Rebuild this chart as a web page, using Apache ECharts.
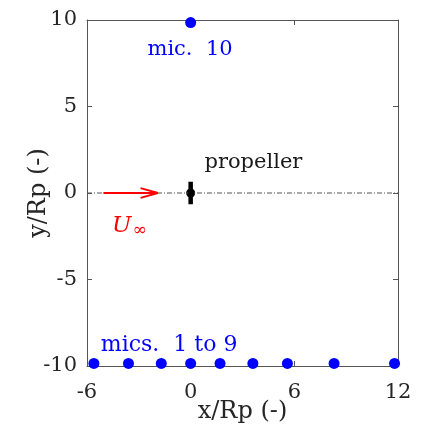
<!DOCTYPE html>
<html>
<head>
<meta charset="utf-8">
<script src="https://cdn.jsdelivr.net/npm/echarts@6/dist/echarts.min.js"></script>
<style>
  html, body { margin: 0; padding: 0; background: #fff; }
  #chart { width: 421px; height: 425px; }
</style>
</head>
<body>
<div id="chart"></div>
<script>
// Microphone layout around the propeller, in units of propeller radius
const xTicks = [-6, 0, 6, 12];
const yTicks = [-10, -5, 0, 5, 10];
const micsX = [-5.6, -3.6, -1.7, 0, 1.7, 3.6, 5.6, 8.3, 11.8];
const micsY = [-9.85, -9.85, -9.85, -9.85, -9.85, -9.85, -9.85, -9.85, -9.85];
const mic10 = [0, 9.85];
const axisLine = [[-6, 0], [12, 0]];
const flowShaft = [[-5.05, 0], [-1.9, 0]];
const flowHead = [[-2.9, 0.28], [-1.9, 0], [-2.9, -0.28]];
const propBlade = [[0, -0.65], [0, 0.65]];
const propHub = [0, 0];
const textLabels = [
  { pos: [0.8, 1.75], text: 'propeller', color: '#1a1a1a', size: 21 },
  { pos: [-2.5, 8.3], text: 'mic.  10', color: '#0000ff', size: 21 },
  { pos: [-5.2, -8.8], text: 'mics.  1 to 9', color: '#0000ff', size: 22 }
];
const flowLabelPos = [-4.55, -1.9];

const FONT = 'DejaVu Serif';
const TXT = '#262626';
const AX = '#555555';

const chart = echarts.init(document.getElementById('chart'));

const mainAxisX = {
  type: 'value', min: -6, max: 12, interval: 6, position: 'bottom',
  axisLine: { onZero: false, lineStyle: { color: AX, width: 1 } },
  axisTick: { inside: true, length: 5, lineStyle: { color: AX } },
  splitLine: { show: false },
  axisLabel: { color: TXT, fontFamily: FONT, fontSize: 21, margin: 16,
    formatter: v => xTicks.includes(v) ? String(v) : '' },
  name: 'x/Rp (-)', nameLocation: 'middle', nameGap: 34, nameMoveOverlap: false,
  nameTextStyle: { color: TXT, fontFamily: FONT, fontSize: 24 }
};
const mainAxisY = {
  type: 'value', min: -10, max: 10, interval: 5, position: 'left',
  axisLine: { onZero: false, lineStyle: { color: AX, width: 1 } },
  axisTick: { inside: true, length: 5, lineStyle: { color: AX } },
  splitLine: { show: false },
  axisLabel: { color: TXT, fontFamily: FONT, fontSize: 21, margin: 10,
    formatter: v => yTicks.includes(v) ? String(v) : '' },
  name: 'y/Rp (-)', nameLocation: 'middle', nameGap: 36, nameMoveOverlap: false,
  nameTextStyle: { color: TXT, fontFamily: FONT, fontSize: 24 }
};
const mirrorX = {
  type: 'value', min: -6, max: 12, interval: 6, position: 'top',
  axisLine: { onZero: false, lineStyle: { color: AX, width: 1 } },
  axisTick: { inside: true, length: 5, lineStyle: { color: AX } },
  axisLabel: { show: false }, splitLine: { show: false }
};
const mirrorY = {
  type: 'value', min: -10, max: 10, interval: 5, position: 'right',
  axisLine: { onZero: false, lineStyle: { color: AX, width: 1 } },
  axisTick: { inside: true, length: 5, lineStyle: { color: AX } },
  axisLabel: { show: false }, splitLine: { show: false }
};

const series = [
  {
    type: 'line', data: axisLine, symbol: 'none', silent: true,
    lineStyle: { color: '#555', width: 1, type: [5, 2, 1, 2] }
  },
  {
    type: 'line', data: flowShaft, symbol: 'none', silent: true,
    lineStyle: { color: '#ff0000', width: 2 }
  },
  {
    type: 'line', data: flowHead, symbol: 'none', silent: true,
    lineStyle: { color: '#ff0000', width: 2 }
  },
  {
    type: 'line', data: propBlade, symbol: 'none', silent: true,
    lineStyle: { color: '#000', width: 4.5 }
  },
  {
    type: 'scatter', data: [propHub], symbol: 'circle', symbolSize: 9,
    itemStyle: { color: '#000', opacity: 1 }, silent: true
  },
  {
    type: 'scatter', data: micsX.map((x, i) => [x, micsY[i]]).concat([mic10]),
    symbol: 'circle', symbolSize: 11, itemStyle: { color: '#0000ff', opacity: 1 },
    silent: true, z: 5
  },
  {
    type: 'scatter', symbolSize: 0, silent: true, itemStyle: { opacity: 1 },
    data: textLabels.map(t => ({
      value: t.pos,
      label: { show: true, position: 'right', distance: 0, formatter: t.text,
        color: t.color, fontFamily: FONT, fontSize: t.size }
    }))
  },
  {
    type: 'scatter', symbolSize: 0, silent: true, itemStyle: { opacity: 1 },
    data: [{
      value: flowLabelPos,
      label: {
        show: true, position: 'right', distance: 0,
        formatter: '{u|U}{s|∞}',
        rich: {
          u: { color: '#ff0000', fontFamily: FONT, fontStyle: 'italic', fontSize: 23 },
          s: { color: '#ff0000', fontFamily: FONT, fontSize: 17, padding: [10, 0, 0, 1] }
        }
      }
    }]
  }
];

chart.setOption({
  animation: false,
  backgroundColor: '#fff',
  grid: { left: 87, right: 23, top: 20, bottom: 59, containLabel: false, outerBoundsMode: 'none' },
  xAxis: [mainAxisX, mirrorX],
  yAxis: [mainAxisY, mirrorY],
  series: series
});
</script>
</body>
</html>
